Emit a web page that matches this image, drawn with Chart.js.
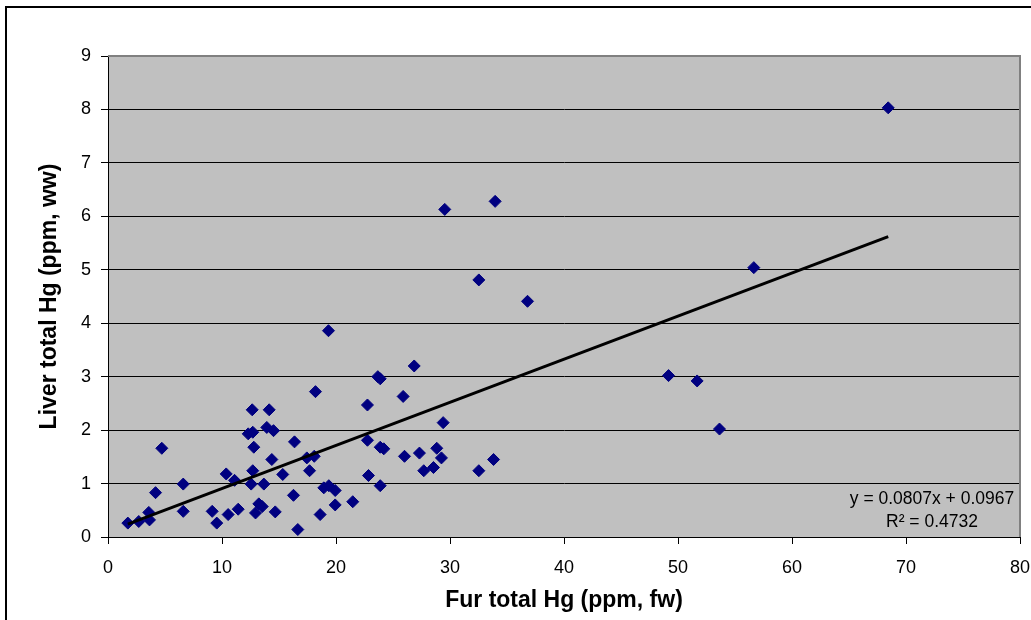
<!DOCTYPE html>
<html lang="en">
<head>
  <meta charset="UTF-8">
  <title>Fur vs liver total Hg</title>
  <script src="https://cdn.jsdelivr.net/npm/chart.js"></script>
  <style>
    body { margin: 0; background: #fff; }
    canvas { display: block; }
  </style>
</head>
<body>
  <canvas id="hgChart" width="1031" height="620"></canvas>
  <script>
    // values
    const furHg = [
      1.74, 2.70, 3.58, 3.64, 4.17, 4.72, 6.60, 6.60, 9.14, 9.54,
      10.37, 10.54, 11.10, 11.42, 12.30, 12.70, 12.65, 14.14, 12.79, 12.70,
      12.56, 13.67, 13.23, 13.53, 12.94, 13.93, 14.52, 14.37, 14.67, 15.33,
      16.27, 16.36, 16.65, 26.86, 23.67, 23.88, 18.20, 25.89, 22.76, 29.40,
      22.76, 23.88, 24.19, 17.44, 18.09, 17.68, 26.01, 27.32, 28.84, 29.25,
      27.70, 28.55, 32.53, 33.82, 22.85, 23.88, 18.93, 19.37, 19.93, 19.93,
      21.47, 18.61, 29.54, 33.96, 32.53, 36.80, 19.34, 56.65, 49.17, 51.68,
      53.64, 68.44
    ];
    const liverHg = [
      0.26, 0.29, 0.46, 0.32, 0.83, 1.66, 0.99, 0.48, 0.48, 0.26,
      1.18, 0.42, 1.06, 0.52, 1.93, 1.96, 2.38, 2.38, 1.68, 1.24,
      0.99, 0.99, 0.62, 0.57, 0.45, 2.05, 1.99, 1.45, 0.47, 1.17,
      0.78, 1.78, 0.14, 3.20, 3.00, 2.96, 2.72, 2.63, 2.47, 2.14,
      1.81, 1.68, 1.65, 1.48, 1.51, 1.24, 1.51, 1.57, 1.66, 1.48,
      1.24, 1.30, 1.24, 1.45, 1.15, 0.96, 0.92, 0.96, 0.87, 0.60,
      0.66, 0.42, 6.13, 6.28, 4.81, 4.41, 3.86, 5.04, 3.02, 2.92,
      2.02, 8.03
    ];

    // linear trendline end points
    const trendX = [1.74, 68.44];
    const trendY = [0.24, 5.62];

    const xTicks = [0, 10, 20, 30, 40, 50, 60, 70, 80];
    const yTicks = [0, 1, 2, 3, 4, 5, 6, 7, 8, 9];
    const equationLines = ['y = 0.0807x + 0.0967', 'R\u00B2 = 0.4732'];

    const fontFamily = "'Liberation Sans', Arial, sans-serif";

    // plot background, plot frame, outer frame and the trendline label
    const framePlugin = {
      id: 'frame',
      beforeDraw(chart) {
        const { ctx, chartArea: a } = chart;
        ctx.save();
        ctx.fillStyle = '#fff';
        ctx.fillRect(0, 0, chart.width, chart.height);
        ctx.fillStyle = '#c0c0c0';
        ctx.fillRect(a.left, a.top, a.right - a.left, a.bottom - a.top);
        ctx.restore();
      },
      beforeDatasetsDraw(chart) {
        const { ctx, chartArea: a } = chart;
        ctx.save();
        ctx.strokeStyle = '#808080';
        ctx.lineWidth = 2;
        ctx.beginPath();
        ctx.moveTo(a.left, a.top);
        ctx.lineTo(a.right, a.top);
        ctx.lineTo(a.right, a.bottom);
        ctx.stroke();
        ctx.restore();
      },
      afterDraw(chart) {
        const { ctx, chartArea: a } = chart;
        ctx.save();
        ctx.strokeStyle = '#000';
        ctx.lineWidth = 2;
        ctx.strokeRect(6, 7, chart.width + 20, chart.height + 20);

        ctx.fillStyle = '#000';
        ctx.font = '17.5px ' + fontFamily;
        ctx.textAlign = 'center';
        ctx.textBaseline = 'middle';
        const cx = a.right - 88;
        ctx.fillText(equationLines[0], cx, a.bottom - 38);
        ctx.fillText(equationLines[1], cx, a.bottom - 15);
        ctx.restore();
      }
    };

    const ctx = document.getElementById('hgChart').getContext('2d');
    new Chart(ctx, {
      type: 'scatter',
      data: {
        datasets: [
          {
            label: 'Linear trend',
            data: trendX.map((x, i) => ({ x: x, y: trendY[i] })),
            showLine: true,
            borderColor: '#000',
            borderWidth: 3,
            pointRadius: 0,
            order: 0
          },
          {
            label: 'Liver vs fur',
            data: furHg.map((x, i) => ({ x: x, y: liverHg[i] })),
            pointStyle: 'rectRot',
            pointRadius: 6,
            backgroundColor: '#000080',
            borderColor: '#000080',
            borderWidth: 1,
            order: 1
          }
        ]
      },
      options: {
        responsive: false,
        animation: false,
        devicePixelRatio: 1,
        layout: { padding: { left: 0, right: 11, top: 56, bottom: 0 } },
        plugins: {
          legend: { display: false },
          tooltip: { enabled: false }
        },
        scales: {
          x: {
            type: 'linear',
            min: 0,
            max: 80,
            afterBuildTicks: axis => { axis.ticks = xTicks.map(v => ({ value: v })); },
            afterFit: axis => {
              axis.height = 83;
              axis.paddingLeft = 0;
              axis.paddingRight = 0;
            },
            grid: { drawOnChartArea: false, drawTicks: true, tickLength: 7, tickColor: '#000' },
            border: { color: '#000', width: 1 },
            ticks: { color: '#000', font: { family: fontFamily, size: 18 }, padding: 13, maxRotation: 0 },
            title: {
              display: true,
              text: 'Fur total Hg (ppm, fw)',
              color: '#000',
              font: { family: fontFamily, size: 23, weight: 'bold' },
              padding: { top: 0, bottom: 6 }
            }
          },
          y: {
            type: 'linear',
            min: 0,
            max: 9,
            afterBuildTicks: axis => { axis.ticks = yTicks.map(v => ({ value: v })); },
            afterFit: axis => { axis.width = 108; },
            grid: {
              color: c => (c.tick && c.tick.value === 9 ? '#808080' : '#000'),
              lineWidth: 1,
              tickLength: 7,
              tickColor: '#000'
            },
            border: { color: '#000', width: 1 },
            ticks: { color: '#000', font: { family: fontFamily, size: 18 }, padding: 10 },
            title: {
              display: true,
              text: 'Liver total Hg (ppm, ww)',
              color: '#000',
              font: { family: fontFamily, size: 23, weight: 'bold' },
              padding: { top: 36, bottom: 0 }
            }
          }
        }
      },
      plugins: [framePlugin]
    });
  </script>
</body>
</html>
